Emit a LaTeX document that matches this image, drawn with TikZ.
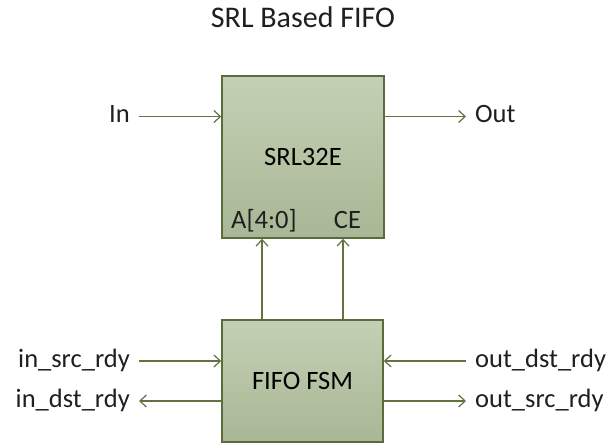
\documentclass[tikz,border=0pt]{standalone}
\usepackage{fontspec}
\setmainfont{Carlito}
\usetikzlibrary{arrows.meta}
\definecolor{boxtop}{HTML}{C4D0B4}
\definecolor{boxbot}{HTML}{A8B795}
\definecolor{boxline}{HTML}{5C6B3C}
\definecolor{wirecol}{HTML}{627243}
\begin{document}
\begin{tikzpicture}[x=1pt,y=-1pt,
  blk/.style={draw=boxline, line width=1.5pt, top color=boxtop, bottom color=boxbot,
              inner sep=0pt, font=\fontsize{26.5}{30}\selectfont},
  wire/.style={draw=wirecol, line width=1.2pt, -{Straight Barb[length=6.5pt,width=12pt]}},
  lbl/.style={font=\fontsize{26.5}{30}\selectfont, inner sep=0pt, text=black!88},
  ttl/.style={font=\fontsize{30}{36}\selectfont, inner sep=0pt, text=black!88}]
\useasboundingbox (0,0) rectangle (611,444);

\node[ttl, anchor=base] (title) at (303,27.5) {SRL Based FIFO};

\node[blk, minimum width=162pt, minimum height=162pt] (srl) at (303,157) {SRL32E};
\node[blk, minimum width=161pt, minimum height=122pt] (fsm) at (302.5,381) {FIFO FSM};

\node[lbl, anchor=base] (addr) at (264,228.5) {A[4:0]};
\node[lbl, anchor=base] (ce) at (347.5,228.5) {CE};

% In / Out
\coordinate (inS) at (139,116.5);
\coordinate (outE) at (466,116.5);
\node[lbl, anchor=base east] (inlbl) at (130,122.7) {In};
\node[lbl, anchor=base west] (outlbl) at (475,122.7) {Out};
\draw[wire] (inS) -- (inS -| srl.west);
\draw[wire] (outE -| srl.east) -- (outE);

% FSM to SRL
\draw[wire] ([xshift=-40.5pt]fsm.north) -- ([xshift=-40.5pt]fsm.north |- srl.south);
\draw[wire] ([xshift=40.5pt]fsm.north) -- ([xshift=40.5pt]fsm.north |- srl.south);

% handshake signals
\coordinate (isr) at (139,361);
\coordinate (idr) at (139,401);
\coordinate (odr) at (466,361);
\coordinate (osr) at (466,401);
\node[lbl, anchor=base east] (isrl) at (130,367.5) {in\_src\_rdy};
\node[lbl, anchor=base east] (idrl) at (130,407.5) {in\_dst\_rdy};
\node[lbl, anchor=base west] (odrl) at (475,367.5) {out\_dst\_rdy};
\node[lbl, anchor=base west] (osrl) at (475,407.5) {out\_src\_rdy};
\draw[wire] (isr) -- (isr -| fsm.west);
\draw[wire] (idr -| fsm.west) -- (idr);
\draw[wire] (odr) -- (odr -| fsm.east);
\draw[wire] (osr -| fsm.east) -- (osr);
\end{tikzpicture}
\end{document}
